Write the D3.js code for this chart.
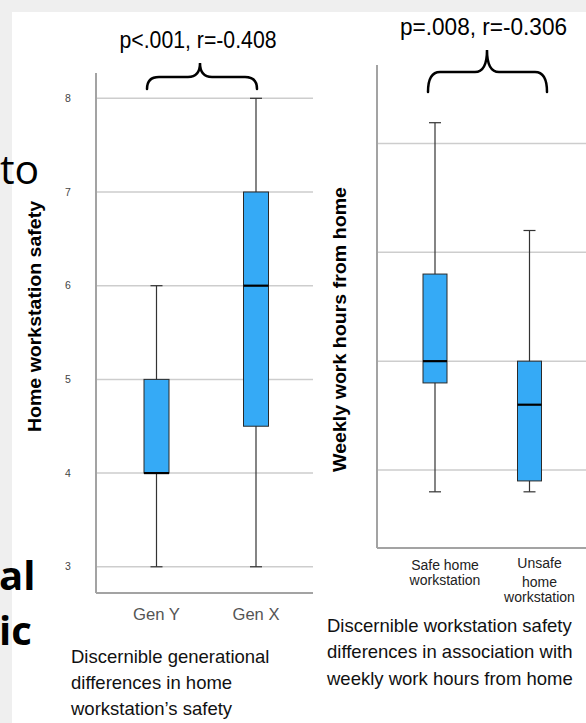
<!DOCTYPE html>
<html lang="en">
<head>
    <meta charset="UTF-8">
    <title>Workstation safety box plots</title>
    <script src="https://d3js.org/d3.v7.min.js"></script>
    <style>
        body {
            margin: 0;
            background: #efefef;
            font-family: "Liberation Sans", Arial, Helvetica, sans-serif;
        }
        .grid line { stroke: #cdcdcd; stroke-width: 1.5; }
        .axis-line { stroke: #a3a3a3; stroke-width: 2; }
        .box { fill: #35aaf6; stroke: #2a2a2a; stroke-width: 1; }
        .median { stroke: #000; stroke-width: 2.2; }
        .whisker { stroke: #333; stroke-width: 1.2; }
        .brace { fill: none; stroke: #000; stroke-width: 2.5; stroke-linecap: round; }
    </style>
</head>
<body>
    <div id="chart"></div>

    <script>
        // left panel: generations vs home workstation safety
        const genCats = ["Gen Y", "Gen X"];
        const genMin = [3, 3];
        const genQ1 = [4, 4.5];
        const genMedian = [4, 6];
        const genQ3 = [5, 7];
        const genMax = [6, 8];
        const genTicks = [3, 4, 5, 6, 7, 8];

        // right panel: safe / unsafe workstation vs weekly hours from home
        const safeCats = ["Safe home workstation", "Unsafe home workstation"];
        const safeLabels = [["Safe home", "workstation"], ["Unsafe", "home", "workstation"]];
        const hrsMin = [8, 8];
        const hrsQ1 = [18, 9];
        const hrsMedian = [20, 16];
        const hrsQ3 = [28, 20];
        const hrsMax = [41.9, 32];
        const hrsGrid = [10, 20, 30, 40];

        const width = 586, height = 723;

        const svg = d3.select("#chart").append("svg")
            .attr("width", width)
            .attr("height", height);

        // white slide area
        svg.append("rect")
            .attr("x", 12).attr("y", 12)
            .attr("width", width - 12).attr("height", height - 12)
            .attr("fill", "#fff");

        // fragments of the slide text behind the charts
        svg.append("text").attr("x", 0).attr("y", 184)
            .style("font", "41px 'Open Sans', sans-serif").attr("fill", "#000").text("to");
        svg.append("text").attr("x", -1).attr("y", 590)
            .style("font", "bold 40px 'Open Sans', sans-serif").attr("fill", "#000").text("al");
        svg.append("text").attr("x", -1).attr("y", 645)
            .style("font", "bold 40px 'Open Sans', sans-serif").attr("fill", "#000").text("ic");

        function makeData(cats, mins, q1s, meds, q3s, maxs) {
            return cats.map((c, i) => ({
                cat: c, min: mins[i], q1: q1s[i], median: meds[i], q3: q3s[i], max: maxs[i]
            }));
        }

        function drawBoxes(g, data, x, y, boxW, capW) {
            const box = g.selectAll("g.item").data(data).join("g").attr("class", "item");
            box.append("line").attr("class", "whisker")
                .attr("x1", d => x(d.cat)).attr("x2", d => x(d.cat))
                .attr("y1", d => y(d.max)).attr("y2", d => y(d.min));
            box.append("line").attr("class", "whisker")
                .attr("x1", d => x(d.cat) - capW / 2).attr("x2", d => x(d.cat) + capW / 2)
                .attr("y1", d => y(d.max)).attr("y2", d => y(d.max));
            box.append("line").attr("class", "whisker")
                .attr("x1", d => x(d.cat) - capW / 2).attr("x2", d => x(d.cat) + capW / 2)
                .attr("y1", d => y(d.min)).attr("y2", d => y(d.min));
            box.append("rect").attr("class", "box")
                .attr("x", d => x(d.cat) - boxW / 2)
                .attr("width", boxW)
                .attr("y", d => y(d.q3))
                .attr("height", d => y(d.q1) - y(d.q3));
            box.append("line").attr("class", "median")
                .attr("x1", d => x(d.cat) - boxW / 2).attr("x2", d => x(d.cat) + boxW / 2)
                .attr("y1", d => y(d.median)).attr("y2", d => y(d.median));
        }

        function brace(x0, x1, xt, yTip, yMid, yEnd) {
            const r = 12;
            const p = d3.path();
            p.moveTo(x0, yEnd);
            p.quadraticCurveTo(x0, yMid, x0 + r, yMid);
            p.lineTo(xt - r, yMid);
            p.quadraticCurveTo(xt, yMid, xt, yTip);
            p.quadraticCurveTo(xt, yMid, xt + r, yMid);
            p.lineTo(x1 - r, yMid);
            p.quadraticCurveTo(x1, yMid, x1, yEnd);
            return p.toString();
        }

        // ---------- left chart ----------
        const genData = makeData(genCats, genMin, genQ1, genMedian, genQ3, genMax);
        const xL = d3.scalePoint().domain(genCats).range([156.5, 256]);
        const yL = d3.scaleLinear().domain([2.72, 8.27]).range([593, 73]);
        const leftX0 = 96, leftX1 = 313;

        const gL = svg.append("g");
        gL.append("g").attr("class", "grid")
            .selectAll("line").data(genTicks).join("line")
            .attr("x1", leftX0).attr("x2", leftX1)
            .attr("y1", d => yL(d)).attr("y2", d => yL(d));

        gL.append("g").selectAll("text").data(genTicks).join("text")
            .attr("x", 68).attr("y", d => yL(d)).attr("dy", "0.35em")
            .attr("text-anchor", "middle")
            .style("font-size", "10.5px").attr("fill", "#444")
            .text(d => d);

        gL.append("line").attr("class", "axis-line")
            .attr("x1", leftX0).attr("x2", leftX0).attr("y1", yL.range()[1]).attr("y2", yL.range()[0]);
        gL.append("line").attr("class", "axis-line")
            .attr("x1", leftX0).attr("x2", leftX1).attr("y1", yL.range()[0]).attr("y2", yL.range()[0]);

        drawBoxes(gL, genData, xL, yL, 25, 12);

        gL.append("g").selectAll("text").data(genCats).join("text")
            .attr("x", d => xL(d)).attr("y", 620)
            .attr("text-anchor", "middle")
            .attr("textLength", 47).attr("lengthAdjust", "spacingAndGlyphs")
            .style("font-size", "17px").attr("fill", "#555")
            .text(d => d);

        gL.append("text")
            .attr("transform", "translate(41,316.5) rotate(-90)")
            .attr("text-anchor", "middle")
            .attr("textLength", 231).attr("lengthAdjust", "spacingAndGlyphs")
            .style("font-size", "19px").style("font-weight", "bold").attr("fill", "#000")
            .text("Home workstation safety");

        gL.append("text")
            .attr("x", 198).attr("y", 48)
            .attr("text-anchor", "middle")
            .attr("textLength", 157).attr("lengthAdjust", "spacingAndGlyphs")
            .style("font-size", "24px").attr("fill", "#000")
            .text("p<.001, r=-0.408");

        gL.append("path").attr("class", "brace")
            .attr("d", brace(xL(genCats[0]) - 9.5, xL(genCats[1]) + 1, 200, 63, 77, 89));

        [["Discernible generational", 663], ["differences in home", 689], ["workstation\u2019s safety", 715]]
            .forEach(([t, yy]) => {
                gL.append("text").attr("x", 71).attr("y", yy)
                    .style("font-size", "18.5px").attr("fill", "#111").text(t);
            });

        // ---------- right chart ----------
        const hrsData = makeData(safeCats, hrsMin, hrsQ1, hrsMedian, hrsQ3, hrsMax);
        const xR = d3.scalePoint().domain(safeCats).range([435, 529.5]);
        const yR = d3.scaleLinear().domain([2.84, 47.2]).range([548, 65]);
        const rightX0 = 377, rightX1 = 586;

        const gR = svg.append("g");
        gR.append("g").attr("class", "grid")
            .selectAll("line").data(hrsGrid).join("line")
            .attr("x1", rightX0).attr("x2", rightX1)
            .attr("y1", d => yR(d)).attr("y2", d => yR(d));

        gR.append("line").attr("class", "axis-line")
            .attr("x1", rightX0).attr("x2", rightX0).attr("y1", yR.range()[1]).attr("y2", yR.range()[0]);
        gR.append("line").attr("class", "axis-line")
            .attr("x1", rightX0).attr("x2", rightX1).attr("y1", yR.range()[0]).attr("y2", yR.range()[0]);

        drawBoxes(gR, hrsData, xR, yR, 24, 12);

        const labelBase = [[570, 585], [567.5, 587, 602]];
        safeCats.forEach((c, i) => {
            safeLabels[i].forEach((line, j) => {
                gR.append("text")
                    .attr("x", xR(c) + 10)
                    .attr("y", labelBase[i][j])
                    .attr("text-anchor", "middle")
                    .style("font-size", "14px").attr("fill", "#222")
                    .text(line);
            });
        });

        gR.append("text")
            .attr("transform", "translate(346,329.5) rotate(-90)")
            .attr("text-anchor", "middle")
            .attr("textLength", 285).attr("lengthAdjust", "spacingAndGlyphs")
            .style("font-size", "19px").style("font-weight", "bold").attr("fill", "#000")
            .text("Weekly work hours from home");

        gR.append("text")
            .attr("x", 483.5).attr("y", 35)
            .attr("text-anchor", "middle")
            .attr("textLength", 167).attr("lengthAdjust", "spacingAndGlyphs")
            .style("font-size", "24px").attr("fill", "#000")
            .text("p=.008, r=-0.306");

        gR.append("path").attr("class", "brace")
            .attr("d", brace(xR(safeCats[0]) - 7, xR(safeCats[1]) + 17.5, 487, 50, 72, 92));

        [["Discernible workstation safety", 631.5], ["differences in association with", 658], ["weekly work hours from home", 685]]
            .forEach(([t, yy]) => {
                gR.append("text").attr("x", 327).attr("y", yy)
                    .style("font-size", "18.5px").attr("fill", "#111").text(t);
            });
    </script>
</body>
</html>
